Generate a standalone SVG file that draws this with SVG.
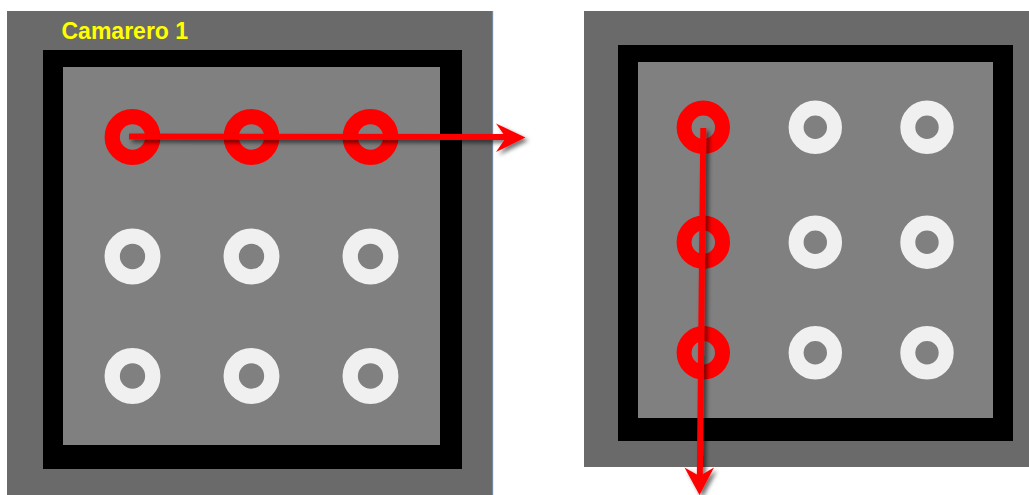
<svg xmlns="http://www.w3.org/2000/svg" width="1029" height="495" viewBox="0 0 1029 495">
<defs>
<style>
.outer{fill:#6a6a6a}
.frame{fill:#000}
.inner{fill:#808080}
.ring{fill:none;stroke:#f0f0f0}
.ring.on{stroke:#ff0000}
.lring{stroke-width:15.3}
.rring{stroke-width:15}
.arrow-line{stroke:#ff0000;stroke-width:6;fill:none}
.arrow-head{fill:#ff0000}
.label{font-family:"Liberation Sans",Arial,sans-serif;font-weight:bold;font-size:23px;fill:#ffff00}
</style>
<filter id="shadow" x="-20%" y="-20%" width="140%" height="140%">
<feDropShadow dx="3" dy="3" stdDeviation="2" flood-color="#000" flood-opacity="0.55"/>
</filter>
</defs>
<rect width="1029" height="495" fill="#ffffff"/>

<g id="panel-left">
<rect class="outer" x="7" y="11" width="486" height="484"/>
<line x1="492.7" y1="11" x2="492.7" y2="495" stroke="#7b93ad" stroke-width="1"/>
<rect class="frame" x="43" y="50" width="419" height="419"/>
<rect class="inner" x="63" y="67" width="377" height="378"/>
<text class="label" x="61.5" y="38.5">Camarero 1</text>
</g>

<g id="panel-right">
<rect class="outer" x="584" y="11" width="445" height="456"/>
<rect class="frame" x="618" y="45" width="395" height="396"/>
<rect class="inner" x="638" y="62" width="355" height="356"/>
</g>

<g id="rings-left">
<circle id="L11" class="ring on lring" cx="132.5" cy="137" r="20.3"/>
<circle id="L12" class="ring on lring" cx="251.5" cy="137" r="20.3"/>
<circle id="L13" class="ring on lring" cx="370.5" cy="137" r="20.3"/>
<circle id="L21" class="ring lring" cx="132.5" cy="256.5" r="20.3"/>
<circle id="L22" class="ring lring" cx="251.5" cy="256.5" r="20.3"/>
<circle id="L23" class="ring lring" cx="370.5" cy="256.5" r="20.3"/>
<circle id="L31" class="ring lring" cx="132.5" cy="376" r="20.3"/>
<circle id="L32" class="ring lring" cx="251.5" cy="376" r="20.3"/>
<circle id="L33" class="ring lring" cx="370.5" cy="376" r="20.3"/>
</g>

<g id="rings-right">
<circle id="R11" class="ring on rring" cx="703.3" cy="127.3" r="19.2"/>
<circle id="R12" class="ring rring" cx="815.3" cy="127.3" r="19.2"/>
<circle id="R13" class="ring rring" cx="927" cy="127.3" r="19.2"/>
<circle id="R21" class="ring on rring" cx="703.3" cy="242.2" r="19.2"/>
<circle id="R22" class="ring rring" cx="815.3" cy="242.2" r="19.2"/>
<circle id="R23" class="ring rring" cx="927" cy="242.2" r="19.2"/>
<circle id="R31" class="ring on rring" cx="703.3" cy="352.8" r="19.2"/>
<circle id="R32" class="ring rring" cx="815.3" cy="352.8" r="19.2"/>
<circle id="R33" class="ring rring" cx="927" cy="352.8" r="19.2"/>
</g>

<g id="connectors" filter="url(#shadow)">
<g id="arrow-horizontal">
<line class="arrow-line" x1="129" y1="136.5" x2="508" y2="137"/>
<polygon class="arrow-head" points="496,123.5 525.5,137.5 496,152 506,137.5"/>
</g>
<g id="arrow-vertical">
<line class="arrow-line" x1="703.3" y1="128" x2="699.8" y2="480"/>
<polygon class="arrow-head" points="684.5,467.5 699.5,476 714,467.5 699.5,495"/>
</g>
</g>
</svg>
